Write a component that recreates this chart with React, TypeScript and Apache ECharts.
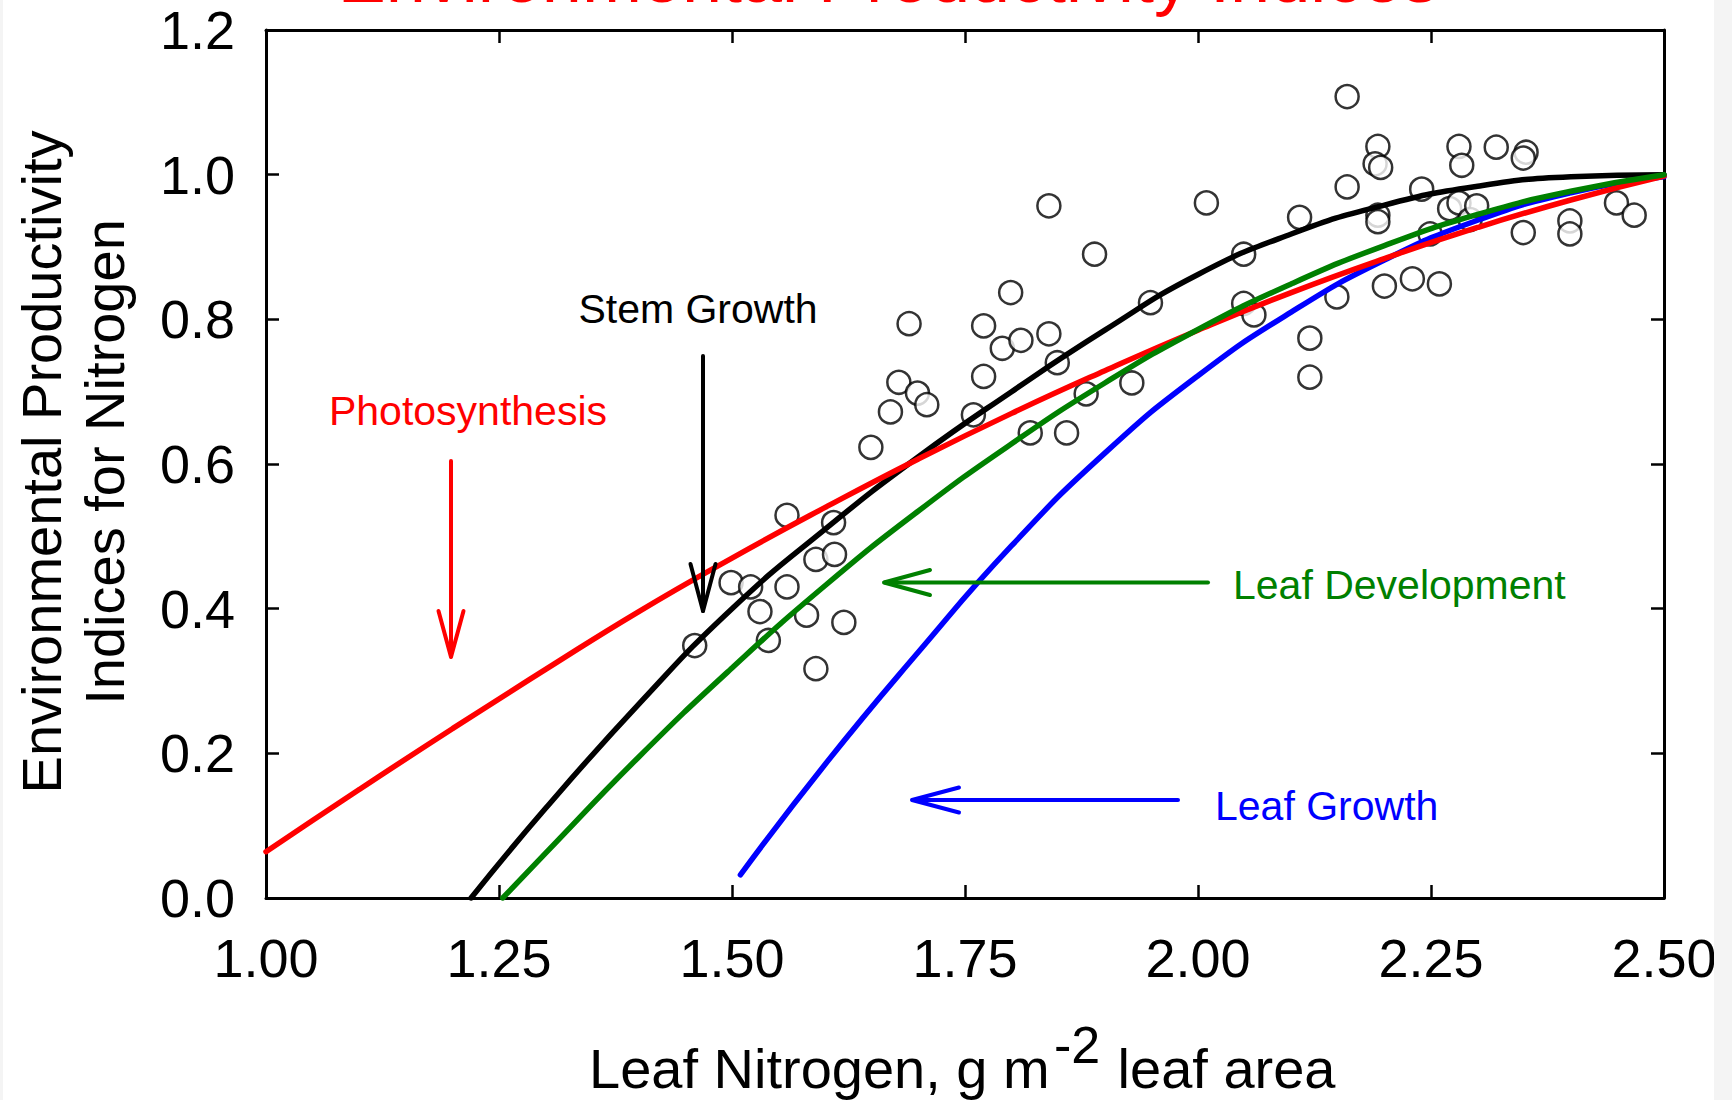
import React, { useEffect, useRef } from 'react';
import * as echarts from 'echarts';

const FONT = '"Liberation Sans", Arial, Helvetica, sans-serif';

// Axis settings
const X_MIN = 1.0;
const X_MAX = 2.5;
const X_STEP = 0.25;
const Y_MIN = 0.0;
const Y_MAX = 1.2;
const Y_STEP = 0.2;

// Observed points (leaf nitrogen, index)
const obsN = [
  1.46, 1.499, 1.52, 1.53, 1.539, 1.559, 1.559, 1.58, 1.59, 1.59, 1.609, 1.61, 1.62,
  1.649, 1.67, 1.679, 1.69, 1.699, 1.709, 1.759, 1.77, 1.77, 1.79, 1.799, 1.81, 1.82,
  1.84, 1.84, 1.849, 1.859, 1.88, 1.889, 1.929, 1.949, 2.009, 2.049, 2.049, 2.06,
  2.109, 2.12, 2.12, 2.149, 2.16, 2.16, 2.193, 2.19, 2.196, 2.193, 2.193, 2.2, 2.23,
  2.24, 2.249, 2.259, 2.27, 2.28, 2.28, 2.283, 2.292, 2.299, 2.32, 2.352, 2.349,
  2.349, 2.399, 2.399, 2.449, 2.468,
];
const obsIdx = [
  0.349, 0.436, 0.43, 0.396, 0.356, 0.529, 0.43, 0.391, 0.468, 0.317, 0.519, 0.475, 0.381,
  0.623, 0.672, 0.713, 0.794, 0.698, 0.682, 0.668, 0.791, 0.721, 0.76, 0.837, 0.771, 0.643,
  0.957, 0.78, 0.74, 0.643, 0.697, 0.89, 0.712, 0.823, 0.961, 0.89, 0.822, 0.806,
  0.941, 0.774, 0.72, 0.831, 1.108, 0.983, 1.039, 1.015, 1.01, 0.944, 0.935, 0.846, 0.856,
  0.98, 0.918, 0.849, 0.953, 0.961, 1.039, 1.013, 0.938, 0.957, 1.038, 1.031, 1.023,
  0.92, 0.936, 0.918, 0.961, 0.944,
];

// Photosynthesis (red)
const photoN = [1.0, 1.1, 1.2, 1.3, 1.4, 1.5, 1.6, 1.7, 1.8, 1.9, 2.0, 2.1, 2.2, 2.3, 2.4, 2.5];
const photoIdx = [0.064, 0.15, 0.234, 0.316, 0.396, 0.47, 0.54, 0.607, 0.67, 0.729, 0.785, 0.837, 0.884, 0.927, 0.965, 0.998];

// Stem growth (black)
const stemN = [1.22, 1.3, 1.4, 1.5, 1.6, 1.7, 1.8, 1.9, 2.0, 2.1, 2.2, 2.3, 2.4, 2.5];
const stemIdx = [0.0, 0.124, 0.268, 0.4, 0.51, 0.61, 0.7, 0.785, 0.862, 0.918, 0.958, 0.984, 0.997, 1.0];

// Leaf development (green)
const devN = [1.254, 1.3, 1.4, 1.5, 1.6, 1.7, 1.8, 1.9, 2.0, 2.1, 2.2, 2.3, 2.4, 2.5];
const devIdx = [0.0, 0.062, 0.195, 0.318, 0.432, 0.535, 0.628, 0.712, 0.786, 0.849, 0.902, 0.945, 0.977, 1.0];

// Leaf growth (blue)
const growN = [1.509, 1.6, 1.7, 1.8, 1.9, 2.0, 2.1, 2.2, 2.3, 2.4, 2.5];
const growIdx = [0.032, 0.185, 0.34, 0.487, 0.615, 0.722, 0.81, 0.882, 0.937, 0.975, 0.997];

const pairs = (xs: number[], ys: number[]) => xs.map((x, i) => [x, ys[i]]);

const axisLineStyle = { show: true, onZero: false, lineStyle: { color: '#000', width: 3 } };
const axisTickStyle = { show: true, inside: true, length: 13, lineStyle: { color: '#000', width: 2.5 } };

const curve = (name: string, data: number[][], color: string) => ({
  name,
  type: 'line',
  data,
  smooth: 0.5,
  showSymbol: false,
  symbol: 'none',
  lineStyle: { color, width: 5.5, cap: 'round', join: 'round' },
  xAxisIndex: 0,
  yAxisIndex: 0,
});

const arrowStyle = (color: string) => ({ stroke: color, lineWidth: 4, lineCap: 'round', lineJoin: 'round', fill: null });

export default function App() {
  const ref = useRef<HTMLDivElement>(null);
  useEffect(() => {
    document.body.style.margin = '0';
    const chart = echarts.init(ref.current!, null, { renderer: 'svg' });
    const option: any = {
      animation: false,
      backgroundColor: '#ffffff',
      grid: { left: 266, right: 68, top: 30, bottom: 202, containLabel: false },
      xAxis: [
        {
          type: 'value', min: X_MIN, max: X_MAX, interval: X_STEP, position: 'bottom',
          axisLine: axisLineStyle, axisTick: axisTickStyle, splitLine: { show: false },
          axisLabel: {
            show: true, fontSize: 54, fontFamily: FONT, color: '#000', margin: 33,
            showMinLabel: true, showMaxLabel: true,
            formatter: (v: number) => v.toFixed(2),
          },
        },
        {
          type: 'value', min: X_MIN, max: X_MAX, interval: X_STEP, position: 'top',
          axisLine: axisLineStyle, axisTick: axisTickStyle, splitLine: { show: false },
          axisLabel: { show: false },
        },
      ],
      yAxis: [
        {
          type: 'value', min: Y_MIN, max: Y_MAX, interval: Y_STEP, position: 'left',
          axisLine: axisLineStyle, axisTick: axisTickStyle, splitLine: { show: false },
          axisLabel: {
            show: true, fontSize: 54, fontFamily: FONT, color: '#000', margin: 31,
            showMinLabel: true, showMaxLabel: true,
            formatter: (v: number) => v.toFixed(1),
          },
        },
        {
          type: 'value', min: Y_MIN, max: Y_MAX, interval: Y_STEP, position: 'right',
          axisLine: axisLineStyle, axisTick: axisTickStyle, splitLine: { show: false },
          axisLabel: { show: false },
        },
      ],
      series: [
        curve('Stem Growth', pairs(stemN, stemIdx), '#000000'),
        {
          name: 'Observed',
          type: 'scatter',
          data: pairs(obsN, obsIdx),
          symbol: 'circle',
          symbolSize: 23,
          itemStyle: { color: '#ffffff', borderColor: '#000000', borderWidth: 2.5 },
          xAxisIndex: 0,
          yAxisIndex: 0,
        },
        curve('Leaf Growth', pairs(growN, growIdx), '#0000ff'),
        curve('Photosynthesis', pairs(photoN, photoIdx), '#ff0000'),
        curve('Leaf Development', pairs(devN, devIdx), '#008000'),
      ],
      graphic: [
        // title (cut off at top, as in the original figure)
        {
          type: 'text', x: 888, y: -23, z: 50,
          style: { text: 'Environmental Productivity Indices', fill: '#ff0000', font: `72px ${FONT}`, align: 'center', verticalAlign: 'middle' },
        },
        // y axis title
        {
          type: 'text', x: 41, y: 462, rotation: Math.PI / 2, z: 50,
          style: { text: 'Environmental Productivity', fill: '#000', font: `56px ${FONT}`, align: 'center', verticalAlign: 'middle' },
        },
        {
          type: 'text', x: 104, y: 462, rotation: Math.PI / 2, z: 50,
          style: { text: 'Indices for Nitrogen', fill: '#000', font: `56px ${FONT}`, align: 'center', verticalAlign: 'middle' },
        },
        // x axis title with superscript
        {
          type: 'text', x: 589, y: 1068, z: 50,
          style: { text: 'Leaf Nitrogen, g m', fill: '#000', font: `56px ${FONT}`, align: 'left', verticalAlign: 'middle' },
        },
        {
          type: 'text', x: 1054, y: 1045, z: 50,
          style: { text: '-2', fill: '#000', font: `52px ${FONT}`, align: 'left', verticalAlign: 'middle' },
        },
        {
          type: 'text', x: 1102, y: 1068, z: 50,
          style: { text: ' leaf area', fill: '#000', font: `56px ${FONT}`, align: 'left', verticalAlign: 'middle' },
        },
        // annotations
        {
          type: 'text', x: 468, y: 411, z: 50,
          style: { text: 'Photosynthesis', fill: '#ff0000', font: `41px ${FONT}`, align: 'center', verticalAlign: 'middle' },
        },
        { type: 'line', z: 50, shape: { x1: 451, y1: 461, x2: 451, y2: 656 }, style: arrowStyle('#ff0000') },
        { type: 'polyline', z: 50, shape: { points: [[438.5, 611], [451, 657], [463.5, 611]] }, style: arrowStyle('#ff0000') },
        {
          type: 'text', x: 698, y: 309, z: 50,
          style: { text: 'Stem Growth', fill: '#000', font: `41px ${FONT}`, align: 'center', verticalAlign: 'middle' },
        },
        { type: 'line', z: 50, shape: { x1: 703, y1: 356, x2: 703, y2: 611 }, style: arrowStyle('#000') },
        { type: 'polyline', z: 50, shape: { points: [[690.5, 564], [703, 611], [715.5, 564]] }, style: arrowStyle('#000') },
        {
          type: 'text', x: 1233, y: 585, z: 50,
          style: { text: 'Leaf Development', fill: '#008000', font: `41px ${FONT}`, align: 'left', verticalAlign: 'middle' },
        },
        { type: 'line', z: 50, shape: { x1: 1208, y1: 582.5, x2: 885, y2: 582.5 }, style: arrowStyle('#008000') },
        { type: 'polyline', z: 50, shape: { points: [[930, 570], [884, 582.5], [930, 595]] }, style: arrowStyle('#008000') },
        {
          type: 'text', x: 1215, y: 806, z: 50,
          style: { text: 'Leaf Growth', fill: '#0000ff', font: `41px ${FONT}`, align: 'left', verticalAlign: 'middle' },
        },
        { type: 'line', z: 50, shape: { x1: 1178, y1: 800, x2: 913, y2: 800 }, style: arrowStyle('#0000ff') },
        { type: 'polyline', z: 50, shape: { points: [[959, 787.5], [912, 800], [959, 812.5]] }, style: arrowStyle('#0000ff') },
        // light page edges
        { type: 'rect', z: 100, shape: { x: 1714, y: 0, width: 18, height: 1100 }, style: { fill: '#f4f4f4' } },
        { type: 'rect', z: 100, shape: { x: 0, y: 0, width: 3, height: 1100 }, style: { fill: '#f4f4f4' } },
      ],
    };
    chart.setOption(option);
    return () => chart.dispose();
  }, []);
  return <div ref={ref} style={{ width: 1732, height: 1100, background: '#ffffff' }} />;
}
